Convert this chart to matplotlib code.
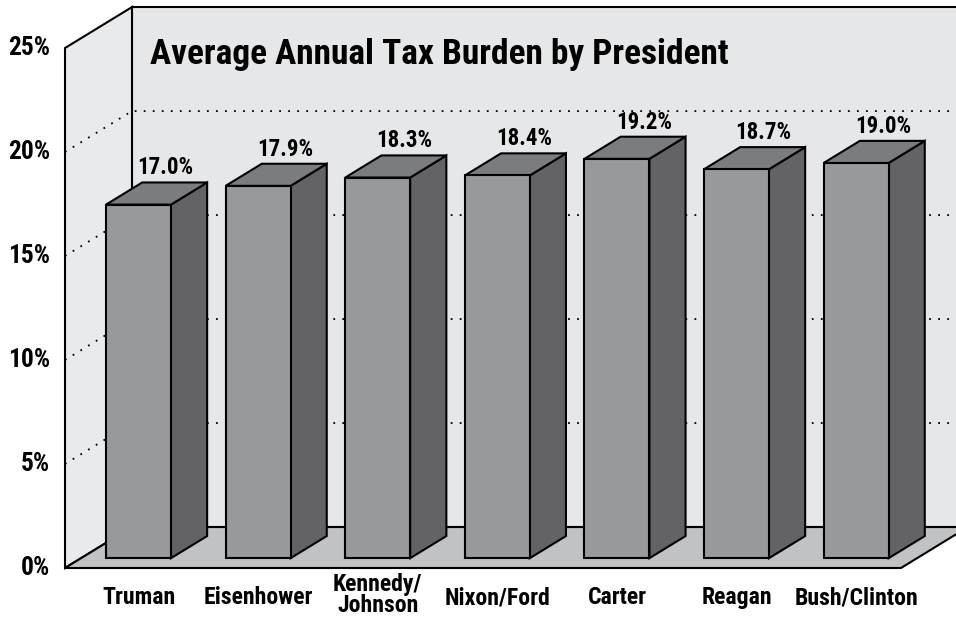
import matplotlib
matplotlib.use("Agg")
import matplotlib.pyplot as plt
from matplotlib.patches import Polygon

presidents = ["Truman", "Eisenhower", "Kennedy/\nJohnson", "Nixon/Ford",
              "Carter", "Reagan", "Bush/Clinton"]
tax_burden = [17.0, 17.9, 18.3, 18.4, 19.2, 18.7, 19.0]
y_ticks = [0, 5, 10, 15, 20, 25]
title = "Average Annual Tax Burden by President"

FONT = ["Liberation Sans Narrow", "Roboto Condensed", "DejaVu Sans Condensed",
        "DejaVu Sans"]
TXT = dict(family=FONT, fontweight="bold", fontstretch="condensed")
WALL = "#e6e7e9"
SIDE_WALL = "#e9eaeb"
FLOOR = "#c1c2c4"
FRONT = "#98999c"
SIDE = "#636366"
TOP = "#7b7c7f"

# oblique depth vector in data units (x: category index, y: percent)
DX, DY = 0.56, 1.97
BAR_W = 0.543
BAR_Z0, BAR_Z1 = 0.24, 0.78   # front / back of the bars as depth fraction
LEFT, RIGHT, FAR = -0.6145, 6.375, 8.0

fig = plt.figure(figsize=(9.56, 6.17), dpi=100)
ax = fig.add_axes([0, 0, 1, 1])
ax.set_xlim(-1.158, 6.835)
ax.set_ylim(-2.356, 27.31)
ax.axis("off")
renderer = fig.canvas.get_renderer()


def fit_size(sample, width_px, start=14):
    # font size that gives the sample string the width seen in the reference
    t = fig.text(0, 0, sample, fontsize=start, **TXT)
    w = t.get_window_extent(renderer).width
    t.remove()
    return start * width_px / w


def poly(pts, fc, z, lw=1.5):
    ax.add_patch(Polygon(pts, closed=True, facecolor=fc, edgecolor="black",
                         linewidth=lw, joinstyle="miter", zorder=z))


fs_title = fit_size(title, 583)
fs_value = fit_size("17.0%", 56)
fs_cat = fit_size("Eisenhower", 110)
fs_tick = fit_size("25%", 42)

top = y_ticks[-1]
# back wall, left wall, floor
poly([(LEFT + DX, DY), (FAR, DY), (FAR, top + DY), (LEFT + DX, top + DY)], WALL, 1)
poly([(LEFT, 0), (LEFT + DX, DY), (LEFT + DX, top + DY), (LEFT, top)], SIDE_WALL, 1)
poly([(LEFT, 0), (RIGHT, 0), (RIGHT + DX, DY), (LEFT + DX, DY)], FLOOR, 2)

# dotted grid lines on the walls
for t in y_ticks[1:-1]:
    ax.plot([LEFT, LEFT + DX, FAR], [t, t + DY, t + DY], color="black",
            linestyle=(0, (1, 4)), linewidth=1.3, zorder=1.5)

# y tick labels
for t in y_ticks:
    ax.text(LEFT - 0.125, t, f"{t}%", ha="right", va="center",
            fontsize=fs_tick, **TXT)

# bars
ddx, ddy = (BAR_Z1 - BAR_Z0) * DX, (BAR_Z1 - BAR_Z0) * DY
yb = BAR_Z0 * DY
for i, (name, v) in enumerate(zip(presidents, tax_burden)):
    x0, x1 = i - BAR_W / 2, i + BAR_W / 2
    yt = yb + v
    poly([(x1, yb), (x1 + ddx, yb + ddy), (x1 + ddx, yt + ddy), (x1, yt)], SIDE, 3)
    poly([(x0, yt), (x1, yt), (x1 + ddx, yt + ddy), (x0 + ddx, yt + ddy)], TOP, 3)
    poly([(x0, yb), (x1, yb), (x1, yt), (x0, yt)], FRONT, 4)
    ax.text(i + 0.226, yt + ddy + 0.15, f"{v:.1f}%", ha="center", va="bottom",
            fontsize=fs_value, zorder=5, **TXT)
    two_lines = "\n" in name
    ax.text(i, -1.3 if two_lines else -1.44, name, ha="center", va="center",
            fontsize=fs_cat, linespacing=0.85, **TXT)

ax.text(0.096, 24.7, title, ha="left", va="center", fontsize=fs_title,
        zorder=5, **TXT)

fig.savefig("out.png", dpi=100)
